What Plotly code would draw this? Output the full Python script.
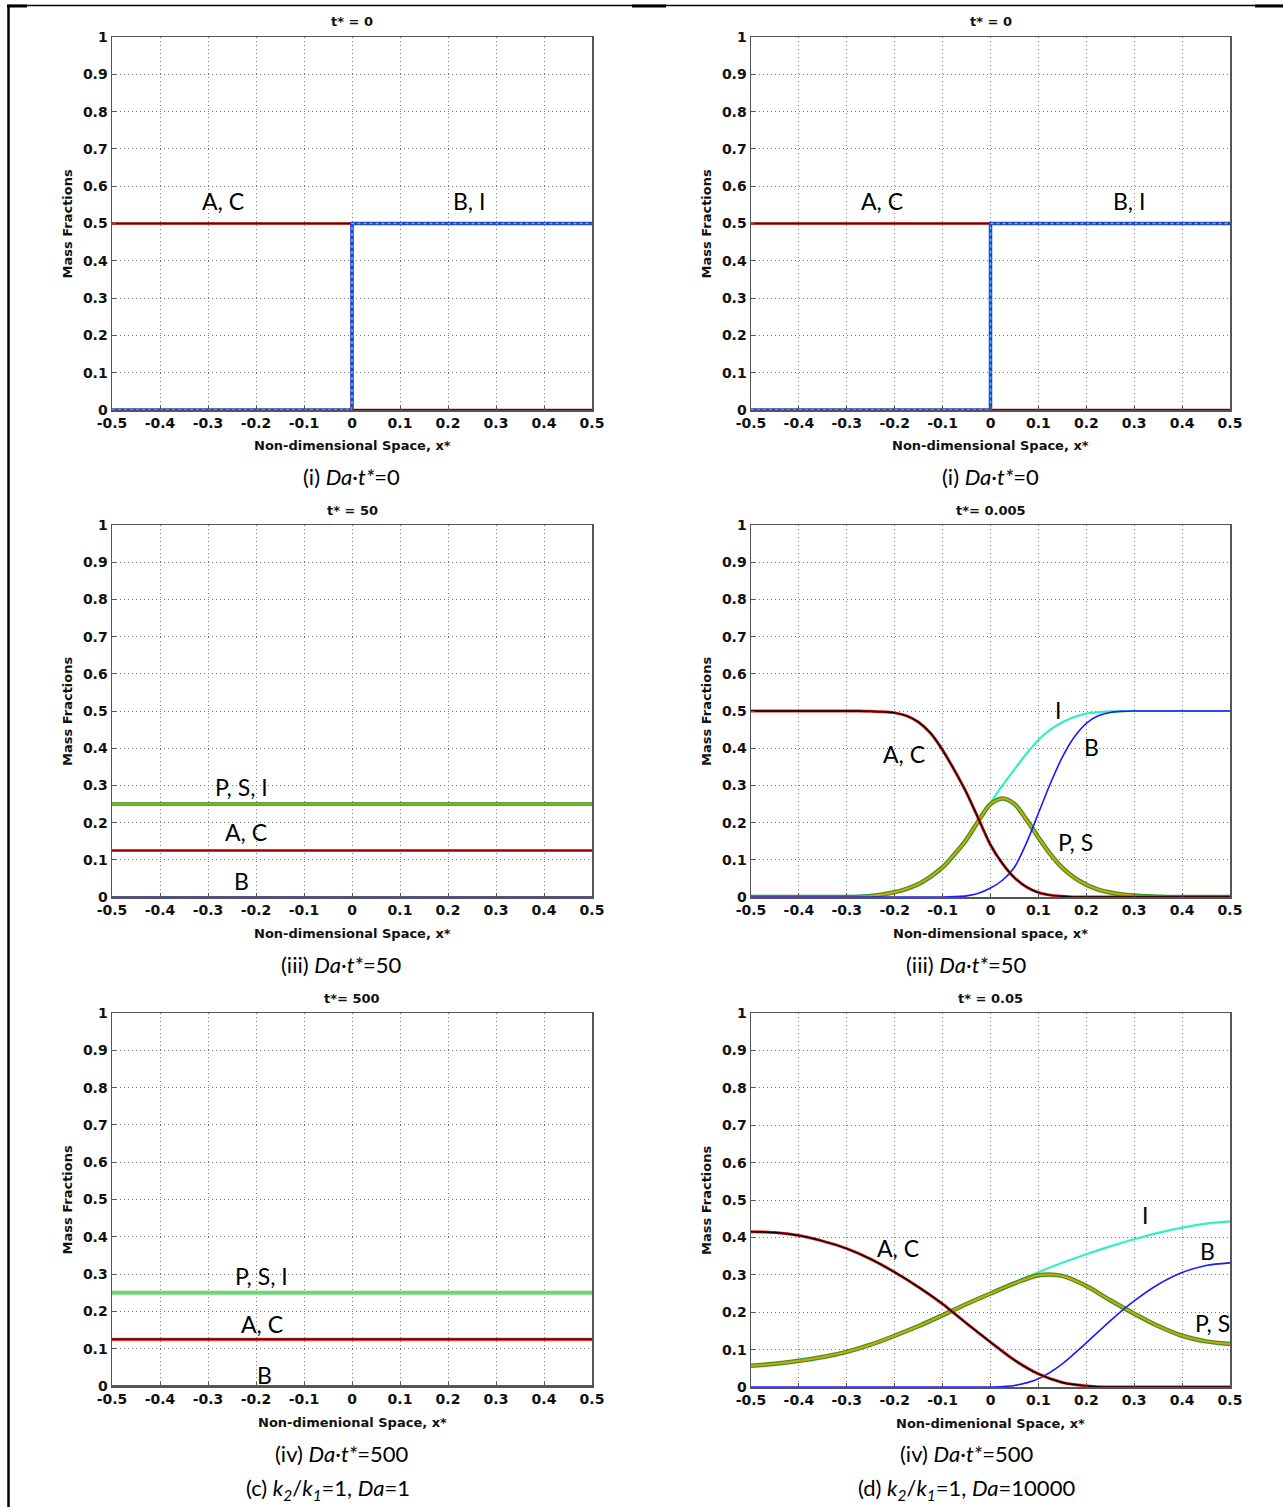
import plotly.graph_objects as go

W, H = 1283, 1507
OFF = 0  # body margin is removed below, so page pixels == figure pixels

# ---------------- data ----------------
x_ticks = [-0.5, -0.4, -0.3, -0.2, -0.1, 0, 0.1, 0.2, 0.3, 0.4, 0.5]
x_tick_labels = ["-0.5", "-0.4", "-0.3", "-0.2", "-0.1", "0", "0.1", "0.2", "0.3", "0.4", "0.5"]
y_ticks = [0, 0.1, 0.2, 0.3, 0.4, 0.5, 0.6, 0.7, 0.8, 0.9, 1]
y_tick_labels = ["0", "0.1", "0.2", "0.3", "0.4", "0.5", "0.6", "0.7", "0.8", "0.9", "1"]

# (i) t*=0 step profiles
x_step = [-0.5, 0.0, 0.0, 0.5]
ac_step = [0.5, 0.5, 0.0, 0.0]
bi_step = [0.0, 0.0, 0.5, 0.5]

# left (iii) / (iv): uniform profiles
x_flat = [-0.5, 0.5]
psi_flat = [0.25, 0.25]
ac_flat = [0.125, 0.125]
b_flat = [0.0, 0.0]

# right (iii) t* = 0.005
x_r3 = [-0.5, -0.475, -0.45, -0.425, -0.4, -0.375, -0.35, -0.325, -0.3, -0.275,
        -0.25, -0.225, -0.2, -0.175, -0.15, -0.125, -0.1, -0.075, -0.05, -0.025,
        0.0, 0.025, 0.05, 0.075, 0.1, 0.125, 0.15, 0.175, 0.2, 0.225,
        0.25, 0.275, 0.3, 0.325, 0.35, 0.375, 0.4, 0.425, 0.45, 0.475, 0.5]
ac_r3 = [0.5, 0.5, 0.5, 0.5, 0.5, 0.5, 0.5, 0.5, 0.5, 0.5,
         0.499, 0.498, 0.495, 0.487, 0.47, 0.44, 0.395, 0.34, 0.28, 0.21,
         0.14, 0.09, 0.052, 0.027, 0.012, 0.005, 0.002, 0.0, 0.0, 0.0,
         0.0, 0.0, 0.0, 0.0, 0.0, 0.0, 0.0, 0.0, 0.0, 0.0, 0.0]
i_r3 = [0.0, 0.0, 0.0, 0.0, 0.0, 0.0, 0.0, 0.0, 0.0, 0.001,
        0.003, 0.007, 0.013, 0.022, 0.035, 0.055, 0.08, 0.115, 0.155, 0.205,
        0.253, 0.30, 0.343, 0.385, 0.422, 0.45, 0.47, 0.484, 0.493, 0.497,
        0.499, 0.5, 0.5, 0.5, 0.5, 0.5, 0.5, 0.5, 0.5, 0.5, 0.5]
ps_r3 = [0.0, 0.0, 0.0, 0.0, 0.0, 0.0, 0.0, 0.0, 0.0, 0.001,
         0.003, 0.007, 0.013, 0.022, 0.035, 0.055, 0.08, 0.115, 0.155, 0.205,
         0.25, 0.265, 0.25, 0.208, 0.16, 0.115, 0.078, 0.052, 0.033, 0.02,
         0.012, 0.007, 0.004, 0.002, 0.001, 0.0, 0.0, 0.0, 0.0, 0.0, 0.0]
b_r3 = [0.0, 0.0, 0.0, 0.0, 0.0, 0.0, 0.0, 0.0, 0.0, 0.0,
        0.0, 0.0, 0.0, 0.0, 0.0, 0.0, 0.0, 0.001, 0.003, 0.01,
        0.024, 0.045, 0.08, 0.145, 0.225, 0.305, 0.376, 0.43, 0.467, 0.487,
        0.496, 0.499, 0.5, 0.5, 0.5, 0.5, 0.5, 0.5, 0.5, 0.5, 0.5]

# right (iv) t* = 0.05
x_r4 = [-0.5, -0.45, -0.4, -0.35, -0.3, -0.25, -0.2, -0.15, -0.1, -0.05,
        0.0, 0.05, 0.1, 0.15, 0.2, 0.25, 0.3, 0.35, 0.4, 0.45, 0.5]
ac_r4 = [0.415, 0.413, 0.405, 0.39, 0.37, 0.342, 0.307, 0.267, 0.222, 0.17,
         0.12, 0.072, 0.035, 0.012, 0.003, 0.0, 0.0, 0.0, 0.0, 0.0, 0.0]
ps_r4 = [0.057, 0.062, 0.07, 0.08, 0.094, 0.113, 0.137, 0.163, 0.192, 0.222,
         0.25, 0.277, 0.299, 0.297, 0.27, 0.232, 0.196, 0.163, 0.137, 0.122, 0.115]
i_r4 = [0.057, 0.062, 0.07, 0.08, 0.094, 0.113, 0.137, 0.163, 0.192, 0.222,
        0.251, 0.28, 0.307, 0.332, 0.355, 0.376, 0.395, 0.412, 0.426, 0.437, 0.443]
b_r4 = [0.0, 0.0, 0.0, 0.0, 0.0, 0.0, 0.0, 0.0, 0.0, 0.0,
        0.0, 0.004, 0.022, 0.062, 0.118, 0.177, 0.23, 0.274, 0.306, 0.325, 0.332]

# ---------------- layout helpers ----------------
def fx(p):
    return (p - OFF) / W

def fy(p):
    return 1 - (p - OFF) / H

# panel pixel boxes in page pixels: (left, right, top, bottom)
boxes = [
    (112, 592, 37, 410), (751, 1230, 37, 410),
    (112, 592, 525, 897), (751, 1230, 525, 897),
    (112, 592, 1013, 1386), (751, 1230, 1013, 1387),
]
titles = ["t* = 0", "t* = 0", "t* = 50", "t*= 0.005", "t*= 500", "t* = 0.05"]
xtitles = ["Non-dimensional Space, x*", "Non-dimensional Space, x*",
           "Non-dimensional Space, x*", "Non-dimensional space, x*",
           "Non-dimenional Space, x*", "Non-dimenional Space, x*"]

fig = go.Figure()

def add(panel, x, y, color, width, dash=None, spline=False):
    n = panel + 1
    fig.add_trace(go.Scatter(
        x=x, y=y, mode="lines",
        line=dict(color=color, width=width, dash=dash,
                  shape="spline" if spline else "linear", smoothing=0.8),
        xaxis="x" if n == 1 else f"x{n}", yaxis="y" if n == 1 else f"y{n}",
        showlegend=False, hoverinfo="skip"))

# panels 1,2: t*=0
for p in (0, 1):
    add(p, x_step, ac_step, "#d01010", 2.4)
    add(p, x_step, ac_step, "#400000", 1.3)
    add(p, x_step, bi_step, "#1f3fd0", 3.5)
    add(p, x_step, bi_step, "#3fc8ff", 1.5, "dot")

# panel 3: left t*=50
add(2, x_flat, b_flat, "#1a1a70", 1.5)
add(2, x_flat, psi_flat, "#2f7f10", 3.5)
add(2, x_flat, psi_flat, "#8fcc20", 1.5)
add(2, x_flat, ac_flat, "#ff2020", 3.0)
add(2, x_flat, ac_flat, "#a00000", 1.0)

# panel 5: left t*=500
add(4, x_flat, b_flat, "#1a1a70", 1.5)
add(4, x_flat, psi_flat, "#6cd870", 4.0)
add(4, x_flat, ac_flat, "#ff3030", 3.2)
add(4, x_flat, ac_flat, "#200000", 1.5)

# panel 4: right t*=0.005
add(3, x_r3, i_r3, "#30f0c0", 2.2, spline=True)
add(3, x_r3, ps_r3, "#2a9a2a", 4.5, spline=True)
add(3, x_r3, ps_r3, "#e0a000", 2.0, spline=True)
add(3, x_r3, b_r3, "#1a1aff", 1.6, spline=True)
add(3, x_r3, ac_r3, "#e02020", 3.0, spline=True)
add(3, x_r3, ac_r3, "#000000", 1.4, spline=True)

# panel 6: right t*=0.05
add(5, x_r4, i_r4, "#30f0c0", 2.2, spline=True)
add(5, x_r4, ps_r4, "#2a9a2a", 4.5, spline=True)
add(5, x_r4, ps_r4, "#e0a000", 2.0, spline=True)
add(5, x_r4, b_r4, "#1a1aff", 1.6, spline=True)
add(5, x_r4, ac_r4, "#e02020", 3.0, spline=True)
add(5, x_r4, ac_r4, "#000000", 1.4, spline=True)

tickfont = dict(family="DejaVu Sans", size=14, color="#111")
layout = dict(template="none", width=W, height=H, margin=dict(l=0, r=0, t=0, b=0, pad=0),
              paper_bgcolor="white", plot_bgcolor="white", showlegend=False,
              font=dict(family="DejaVu Sans", color="#111"))

annotations = []
for i, (l, r, t, b) in enumerate(boxes):
    n = i + 1
    xa = "xaxis" if n == 1 else f"xaxis{n}"
    ya = "yaxis" if n == 1 else f"yaxis{n}"
    common = dict(tickfont=tickfont, ticks="inside", ticklen=4, tickcolor="#555",
                  showgrid=True, gridcolor="#777", griddash="1px,3px", gridwidth=1,
                  showline=True, mirror=True, linecolor="#555", linewidth=1.5,
                  zeroline=False, fixedrange=True, automargin=False)
    layout[xa] = dict(domain=[fx(l), fx(r)], range=[-0.5, 0.5],
                      anchor="y" if n == 1 else f"y{n}",
                      tickvals=x_ticks, ticktext=[f"<b>{s}</b>" for s in x_tick_labels],
                      **common)
    layout[ya] = dict(domain=[fy(b), fy(t)], range=[0, 1],
                      anchor="x" if n == 1 else f"x{n}",
                      tickvals=y_ticks, ticktext=[f"<b>{s}</b>" for s in y_tick_labels],
                      **common)
    cx = (l + r) / 2
    annotations.append(dict(text=f"<b>{titles[i]}</b>", x=fx(cx), y=fy(t - 15),
                            xref="paper", yref="paper", showarrow=False,
                            xanchor="center", yanchor="middle",
                            font=dict(family="DejaVu Sans", size=13, color="#111")))
    annotations.append(dict(text=f"<b>{xtitles[i]}</b>", x=fx(cx), y=fy(b + 36),
                            xref="paper", yref="paper", showarrow=False,
                            xanchor="center", yanchor="middle",
                            font=dict(family="DejaVu Sans", size=13, color="#111")))
    annotations.append(dict(text="<b>Mass Fractions</b>", x=fx(l - 45), y=fy((t + b) / 2),
                            xref="paper", yref="paper", showarrow=False, textangle=-90,
                            xanchor="center", yanchor="middle",
                            font=dict(family="DejaVu Sans", size=13, color="#111")))

cap_font = dict(family="Lato", size=22, color="#000")
captions = [
    ("(i) <i>Da</i>·<i>t*</i>=0", 351, 477),
    ("(i) <i>Da</i>·<i>t*</i>=0", 990, 477),
    ("(iii) <i>Da</i>·<i>t*</i>=50", 341, 965),
    ("(iii) <i>Da</i>·<i>t*</i>=50", 966, 965),
    ("(iv) <i>Da</i>·<i>t*</i>=500", 341, 1453),
    ("(iv) <i>Da</i>·<i>t*</i>=500", 966, 1453),
    ("(c) <i>k<sub>2</sub></i>/<i>k<sub>1</sub></i>=1, <i>Da</i>=1", 328, 1489),
    ("(d) <i>k<sub>2</sub></i>/<i>k<sub>1</sub></i>=1, <i>Da</i>=10000", 966, 1489),
]
for txt, cx, cy in captions:
    annotations.append(dict(text=txt, x=fx(cx), y=fy(cy), xref="paper", yref="paper",
                            xanchor="center", yanchor="middle",
                            showarrow=False, font=cap_font))

lab_font = dict(family="Lato", size=23, color="#000")
labels = [
    ("A, C", 223, 201), ("B, I", 469, 201), ("A, C", 882, 201), ("B, I", 1129, 201),
    ("P, S, I", 241, 787), ("A, C", 246, 832), ("B", 241, 881),
    ("I", 1058, 710), ("B", 1091, 747), ("A, C", 904, 754), ("P, S", 1075, 842),
    ("P, S, I", 261, 1276), ("A, C", 262, 1324), ("B", 264, 1375),
    ("I", 1145, 1215), ("B", 1207, 1251), ("A, C", 898, 1248), ("P, S", 1212, 1323),
]
for txt, cx, cy in labels:
    annotations.append(dict(text=txt, x=fx(cx), y=fy(cy), xref="paper", yref="paper",
                            xanchor="center", yanchor="middle",
                            showarrow=False, font=lab_font))

layout["annotations"] = annotations

shapes = [
    dict(type="line", xref="paper", yref="paper", x0=fx(8), x1=fx(1283), y0=fy(5.5), y1=fy(5.5),
         line=dict(color="black", width=1.5)),
    dict(type="line", xref="paper", yref="paper", x0=fx(8.5), x1=fx(8.5), y0=fy(5), y1=fy(1507),
         line=dict(color="black", width=2.5)),
]
for a, b in [(7, 27), (632, 666), (1255, 1283)]:
    shapes.append(dict(type="line", xref="paper", yref="paper", x0=fx(a), x1=fx(b),
                       y0=fy(6), y1=fy(6), line=dict(color="black", width=3)))
layout["shapes"] = shapes

fig.update_layout(**layout)
fig.write_html("out.html",
               config={"displayModeBar": False, "staticPlot": True},
               post_script="document.body.style.margin='0';document.body.style.overflow='hidden';")
